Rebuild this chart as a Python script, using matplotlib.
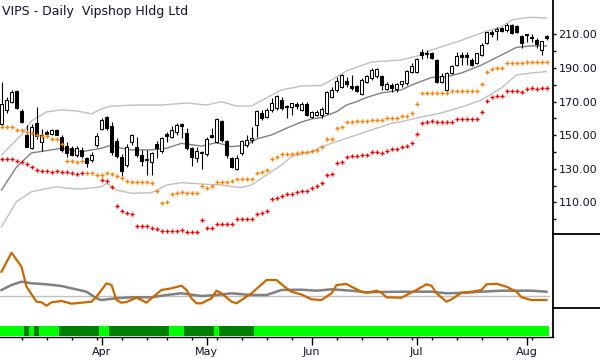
import numpy as np
import pandas as pd
import matplotlib
matplotlib.use("Agg")
import matplotlib.pyplot as plt
from matplotlib.lines import Line2D

# ---------------- data ----------------
title = "VIPS - Daily  Vipshop Hldg Ltd"
start_date, end_date = "2014-03-04", "2014-08-07"
holidays = ["2014-04-18", "2014-05-26", "2014-07-04"]

opens = [157,165,170,176.4,164.5,150.2,142.2,157,146,152,
         151,153,149,143.2,142.2,138.3,141,136.3,135.3,144.2,
         154,160.5,155.1,146.2,137,132.5,146,143,138.3,135,
         134.3,144.5,140.5,150.5,148.8,152.1,156.3,151.2,142.2,136.3,
         139.2,138.9,150.2,146.2,158.1,146.2,136.3,129.7,139.3,144.2,
         147,156.1,163.1,161.1,165.1,166.5,171,167.5,167,168.5,
         165,168.4,161.1,162.1,162.1,163.1,173,177,179,182.3,
         178.9,178.9,174.4,181.9,184.3,185,184.9,177.6,179.9,177.6,
         180.5,180.9,187.9,187.9,199.2,198.8,198.8,194.8,181.9,177,
         186.9,191.8,197.8,197.8,194.8,192.8,197.8,204.7,211.1,212.2,
         213.7,212.7,215.6,214.7,209.1,210.3,208.5,206.3,200.8,209.1]
highs = [182,173,177,177,165.5,156,157,167,154,153,
         153.5,154,150,146.2,143.5,143.5,143,137.3,140.3,151.2,
         160.5,161.5,158.1,148.2,139,145,151,149.2,141,141,
         140.3,146.5,149.2,152.1,155.8,157.1,157.5,154.1,143.2,143.2,
         140.5,149.2,154.1,160.1,159.1,147.2,137.3,138.3,147.2,150.2,
         155.1,165.1,165.1,166.1,172,174,173,168,169.5,170,
         170,170,164.5,165,167,176.4,179,184.9,186.3,184.9,
         185.9,180,183.9,185.9,189.9,189.9,185.9,181.9,180.9,180.9,
         182.3,189,192.8,195.8,201.2,200.8,199.8,195.2,186.9,187.9,
         191.8,199.8,199.8,199.8,195.8,199.2,204.7,211.7,212.7,214.7,
         214.7,217,216.2,215.6,209.7,210.5,210.5,207.7,206.3,209.7]
lows = [155,163.5,169,165.5,157.5,142.8,141.9,148,140.5,149,
        150,150,140.3,137.3,137.5,137,136.5,131.3,134.3,143.2,
        153.1,153.1,138.3,136.3,125.5,131,144,137.3,132,126.5,
        126.4,136.5,139.3,146.2,148.2,150.2,148.5,141.2,131.5,134.3,
        130,137.7,148.2,145.2,146.2,136.3,130.3,129.3,138.3,143.2,
        145.2,149.2,159.1,160.1,164,165,165,160,162,165.7,
        164.5,161.7,160.5,161.5,160.1,162.5,172,176,178,178.9,
        177,176,174,181,182.9,184,177,177,176,175.6,
        179,180,186.9,186.9,195.2,195.8,195.2,181.3,180.9,176.6,
        186.5,191.3,191.8,191.8,191.3,192.4,197.2,204.3,208.7,206.7,
        211.7,211.7,210.3,210.7,201.8,205.7,205.7,201.8,197.8,206.7]
closes = [168.5,171,175.6,166.5,158,143.2,155,149.6,150,150.5,
          153,150.2,141.2,139.3,138.3,142.2,137.5,133.3,138.3,149.2,
          159,154.1,140.3,137.5,128.5,143,150,138.3,134.5,136,
          139.5,142.2,148.2,149.4,153.1,156.1,155.3,142.2,137.3,140.3,
          140.1,147.6,148.8,159.5,147.2,138.3,131.3,136.3,146.2,147.2,
          148.5,164.1,160.1,165.1,169,173,166.5,166.8,169,167.5,
          168.4,162.1,163.7,163.7,165.7,175.6,177,182,185.5,180.3,
          178.4,176.4,182.9,184.9,188.9,189,180,180.3,177.9,180.3,
          181.9,188.3,190.9,195.2,197.8,198.2,195.8,181.9,184.9,186.9,
          191.3,196.8,196.8,196.8,191.8,198.8,203.8,211.1,210.3,212.8,
          212.3,215.6,211.1,211.7,204.7,209.5,208,204.3,205.7,207.7]

nan = float("nan")
stop_orange = [154.7,154.7,154.7,153.1,153.1,151.8,151.2,150.2,149.6,149.6,
               147.6,147.6,144.6,134.5,134.5,133.9,134.5,127.4,127.4,126.4,
               126.4,127.4,127.0,125.8,124.4,123.0,122.4,122.0,122.0,122.0,
               121.6,116.8,109.9,110.5,115.1,115.9,116.3,115.9,115.9,115.9,
               120.0,118.8,119.8,122.2,122.2,122.2,122.8,123.8,123.8,123.8,
               123.8,127.4,128.0,129.3,135.7,136.9,138.7,138.7,138.7,139.3,
               139.9,139.9,140.8,141.4,142.8,147.6,147.6,154.1,154.7,157.7,
               157.7,158.3,158.3,158.3,159.0,159.0,159.0,160.5,160.5,160.5,
               161.5,161.5,163.0,168.4,175.4,175.4,175.4,175.4,175.4,175.4,
               176.2,176.2,176.2,176.2,176.2,176.2,180.5,187.5,189.5,189.9,
               189.9,192.8,192.8,192.8,192.8,193.4,193.4,193.4,193.4,193.4]
stop_red = [135.7,135.7,135.7,134.9,133.9,132.7,130.9,129.3,128.7,128.7,
            128.0,128.7,128.0,128.0,127.4,127.0,127.8,nan,nan,nan,
            123.2,122.6,119.0,107.9,105.1,103.5,103.0,96.0,96.0,96.0,
            94.6,94.0,93.0,93.0,93.0,93.0,93.6,92.6,92.6,92.6,
            99.6,94.6,94.6,97.0,97.0,97.0,97.0,99.9,99.9,99.9,
            99.9,102.9,103.5,104.9,111.9,112.5,114.1,114.9,114.9,116.0,
            117.0,117.0,118.4,119.8,121.4,126.4,127.0,133.3,134.3,137.3,
            137.9,137.9,138.3,138.3,139.9,139.9,139.3,140.6,141.6,141.6,
            142.8,143.6,145.2,150.6,157.1,158.1,158.5,157.7,158.1,157.7,
            157.7,159.5,159.5,159.5,159.5,159.5,163.6,170.4,173.0,173.4,
            173.6,176.5,176.5,176.5,175.9,177.5,177.9,177.3,177.9,178.3]

# envelope lines (sampled along the bars)
upper_idx = [0,4,6,9,12,15,18,20,22,27,32,37,41,44,47,50,53,56,60,64,66,69,74,80,84,86,91,96,100,102,104,106,109]
upper_val = [138.3,150.2,158.5,163.9,165.1,164.5,162.7,165.7,167.4,168,168,169.2,168,170,167.4,167.4,172.2,177,179.3,179.6,182.9,188.3,193.6,194.8,197.8,200.8,205.5,210.9,214.5,218.6,219.6,220.2,219.8]
mid_idx = [0,3,6,10,12,16,20,22,24,26,30,33,36,40,43,46,49,51,54,57,60,62,64,67,69,71,73,76,80,82,86,89,92,96,100,103,106,109]
mid_val = [117.4,131.1,139.5,141.3,142.3,140.2,142.3,144.2,142.3,141.3,141.3,142.3,145.2,143.6,145.6,143.2,144.2,147.8,150.2,154.2,157.9,159.7,160.6,164,168,170,172.5,175.2,177,179.9,184.4,184.9,187.1,191.8,197.8,202.3,203.2,203.2]
lower_idx = [0,3,6,11,13,16,20,21,23,26,30,33,36,40,44,46,48,50,53,56,58,62,64,68,71,75,78,80,84,88,92,96,100,103,106,109]
lower_val = [95.6,110.5,116.4,119.4,118.5,118,119.4,121.4,117.4,115.5,115.8,120.4,121.8,121,120.4,119.4,119,120.4,126.4,132.3,137.3,140.2,143.2,147.2,150.2,154.2,157.1,158.1,160.9,163.3,166.8,171,178.2,185.9,187.1,187.9]

# oscillator panel
osc_idx = [0,2,4,5,7,8,9,10,12,13,14,16,18,19,21,22,23,24,25,27,28,29,30,32,34,36,37,38,39,40,42,43,44,46,47,48,50,53,55,57,58,60,62,64,66,67,69,70,72,73,75,76,77,80,81,83,85,86,87,89,90,92,94,96,97,99,101,103,104,106,109]
osc_val = [36.3,55.3,41.3,21.3,6.3,5.7,2.3,5.7,7,5.7,4.3,5.3,6.3,11.3,24.7,23,8,5.3,6,10.3,8,5.3,9.7,18,19.7,22.3,18,9.7,4.7,4.7,9.7,17.3,14.7,6.3,4.7,8,14.7,28,28,19.7,16.3,13.5,8.7,8,14.7,23,24,21.3,16.3,15.3,17.3,15.3,10.7,10.3,13,18,23.7,22.3,14.7,6.3,8.7,15.3,16.3,18,23.7,24.3,21.3,16.3,10.7,8,8]
sig_idx = [0,2,4,6,9,12,14,17,19,20,23,26,30,33,36,40,43,46,50,53,56,60,63,66,70,73,76,80,86,89,93,96,100,106,109]
sig_val = [18,23,26.3,24.7,23.7,22,19.7,16.3,9.7,8,9.7,10.7,10.7,13,14.7,12,13,14.7,13,13,18,18.3,17.3,18.7,17.3,15.7,16,16.3,16.3,14.7,15.3,16.3,17.3,17.3,16.3]
osc_ref = 12

# trend strip: 1 = bright green, 0 = dark green (runs)
strip_runs = [(1,5),(0,1),(1,1),(0,1),(1,4),(0,8),(1,2),(0,12),(1,3),(0,6),(1,1),(0,7),(1,59)]

month_names = ["Jan","Feb","Mar","Apr","May","Jun","Jul","Aug","Sep","Oct","Nov","Dec"]
price_major = [110,130,150,170,190,210]
price_minor = [100,120,140,160,180,200]

# ---------------- figure ----------------
W, H = 600, 360
fig = plt.figure(figsize=(W/100, H/100), dpi=100)
fig.patch.set_facecolor("white")

def frac(l, t, w, h):
    return [l/W, 1-(t+h)/H, w/W, h/H]

ax_p = fig.add_axes(frac(0, 0, 553, 234))
ax_o = fig.add_axes(frac(0, 234, 553, 74), sharex=ax_p)
ax_g = fig.add_axes(frac(0, 308, 553, 29), sharex=ax_p)

days = pd.bdate_range(start_date, end_date)
days = days[~days.isin(pd.to_datetime(holidays))]
n = len(days)
idx = np.arange(n)

o = np.array(opens); h = np.array(highs); l = np.array(lows); c = np.array(closes)
up = c >= o
ax_p.vlines(idx, l, h, color="black", lw=0.8, zorder=2)
ax_p.bar(idx, np.abs(c-o)+0.15, bottom=np.minimum(o, c), width=0.6,
         facecolor=np.where(up, "white", "black"), edgecolor="black", linewidth=0.75, zorder=3)

ax_p.plot(upper_idx, upper_val, color="#c0c0c0", lw=1.0, zorder=1)
ax_p.plot(lower_idx, lower_val, color="#c0c0c0", lw=1.0, zorder=1)
ax_p.plot(mid_idx, mid_val, color="#808080", lw=1.0, zorder=1)
ax_p.plot(idx, stop_orange, ls="none", marker="P", ms=3.0, color="#ff8000", mec="none", zorder=4)
ax_p.plot(idx, stop_red, ls="none", marker="P", ms=3.0, color="#ff0000", mec="none", zorder=4)

ax_p.set_xlim(-0.3, 110.3)
ax_p.set_ylim(91.25, 230.5)

ax_o.axhline(osc_ref, color="#c0c0c0", lw=1.0, xmin=0, xmax=549/553)
ax_o.plot(sig_idx, sig_val, color="#808080", lw=1.8)
ax_o.plot(osc_idx, osc_val, color="#cc6600", lw=1.6)
ax_o.set_ylim(0, 74)

pos = 0
for state, length in strip_runs:
    xs = np.arange(pos, pos+length)
    ax_g.bar(xs, 10, bottom=1, width=1.0, linewidth=0, antialiased=False,
             color="#00ff00" if state else "#008000")
    pos += length
ax_g.set_ylim(0, 29)

for ax in (ax_p, ax_o, ax_g):
    for s in ("top", "left", "bottom"):
        ax.spines[s].set_visible(False)
    ax.spines["right"].set_linewidth(1.3)
    ax.set_facecolor("none")
    ax.tick_params(axis="x", which="both", bottom=False, labelbottom=False)
    ax.set_yticks([])

ax_p.yaxis.tick_right()
ax_p.set_yticks(price_major)
ax_p.set_yticks(price_minor, minor=True)
ax_p.set_yticklabels([f"{v:.2f}" for v in price_major])
ax_p.tick_params(axis="y", which="both", direction="out", length=2.5, width=1.0,
                 pad=1.5, labelsize=8, labelcolor="#10102a", right=True, left=False)

# time axis
maj = [i for i in range(1, n) if days[i].month != days[i-1].month]
mnr = [i for i in range(1, n) if days[i].isocalendar()[1] != days[i-1].isocalendar()[1]]
ax_g.spines["bottom"].set_visible(True)
ax_g.spines["bottom"].set_linewidth(1.0)
ax_g.set_xticks(maj)
ax_g.set_xticklabels([month_names[days[i].month-1] for i in maj])
ax_g.set_xticks(mnr, minor=True)
ax_g.tick_params(axis="x", which="major", bottom=True, labelbottom=True, length=6, width=1.0,
                 pad=1, labelsize=8, labelcolor="#10102a")
ax_g.tick_params(axis="x", which="minor", bottom=True, length=2.3, width=1.0)

for ypix in (234, 308):
    fig.add_artist(Line2D([553/W, 1], [1-ypix/H]*2, transform=fig.transFigure, color="black", lw=1.3))

fig.text(2/W, 1-15/H, title, fontsize=9, color="#10102a", va="baseline", ha="left")

fig.savefig("out.png", dpi=100)
